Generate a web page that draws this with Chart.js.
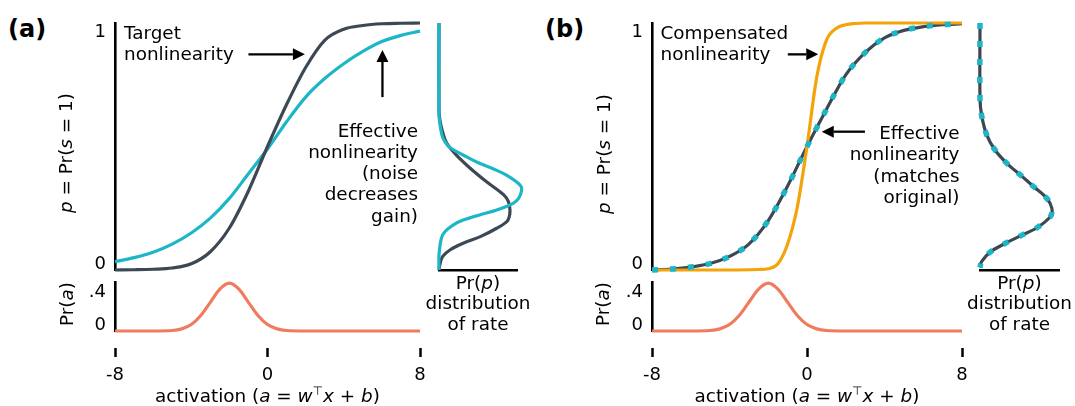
<!DOCTYPE html>
<html>
<head>
<meta charset="utf-8">
<script src="https://cdn.jsdelivr.net/npm/chart.js@4.4.1/dist/chart.umd.min.js"></script>
<style>
  body { margin: 0; background: #fff; }
  #fig { position: relative; width: 1075px; height: 406px; overflow: hidden;
         font-family: "DejaVu Sans", sans-serif; font-size: 18.4px; color: #000; }
  #fig canvas { position: absolute; }
  .t { position: absolute; white-space: nowrap; line-height: 21.3px; }
  .panel { font-weight: bold; font-size: 24px; line-height: 28px; }
  .rot { transform: translate(-50%, -50%) rotate(-90deg) !important; }
  sup { font-size: 12px; vertical-align: 7px; line-height: 0; }
</style>
</head>
<body>
<div id="fig"></div>
<script>
// activation grid for the sigmoid readings
const activation = [-8, -7, -6, -5, -4, -3, -2, -1, 0, 1, 2, 3, 4, 5, 6, 7, 8];

// panel (a): target vs effective nonlinearity, p = Pr(s = 1)
const targetA = [0.000, 0.001, 0.003, 0.008, 0.025, 0.074, 0.17, 0.32, 0.50, 0.67, 0.82, 0.93, 0.975, 0.99, 0.997, 0.999, 1.0];
const effectiveA = [0.034, 0.05, 0.072, 0.105, 0.15, 0.21, 0.29, 0.39, 0.49, 0.60, 0.70, 0.775, 0.835, 0.885, 0.925, 0.95, 0.967];

// panel (b): compensated nonlinearity, effective one matches the original
const targetB = [0.000, 0.004, 0.012, 0.026, 0.055, 0.105, 0.20, 0.34, 0.50, 0.65, 0.79, 0.88, 0.94, 0.97, 0.985, 0.993, 0.997];
const effectiveB = [0.000, 0.004, 0.012, 0.026, 0.055, 0.105, 0.20, 0.34, 0.50, 0.65, 0.79, 0.88, 0.94, 0.97, 0.985, 0.993, 0.997];
const compActivation = [-8, -4, -3, -2.5, -2, -1.5, -1, -0.5, 0, 0.5, 1, 1.5, 2, 2.5, 3, 4, 8];
const compensatedB = [0, 0, 0.001, 0.002, 0.005, 0.025, 0.105, 0.255, 0.50, 0.78, 0.93, 0.978, 0.993, 0.998, 1, 1, 1];

// Pr(a), same in both panels
const priorActivation = [-8, -6, -5, -4.5, -4, -3.5, -3, -2.5, -2, -1.5, -1, -0.5, 0, 0.5, 1, 2, 4, 8];
const prior = [0, 0, 0.004, 0.018, 0.054, 0.13, 0.24, 0.35, 0.40, 0.35, 0.24, 0.13, 0.054, 0.018, 0.004, 0, 0, 0];

// Pr(p), distribution of rate (rate p, density)
const rateEffA = [1.0, 0.63, 0.574, 0.535, 0.503, 0.48, 0.459, 0.432, 0.409, 0.385, 0.344, 0.324, 0.29, 0.27, 0.243, 0.223, 0.202, 0.182, 0.155, 0.128, 0.06, 0];
const densEffA = [0, 0, 0.02, 0.05, 0.115, 0.22, 0.35, 0.52, 0.70, 0.86, 1.04, 1.06, 1.02, 0.95, 0.74, 0.52, 0.31, 0.18, 0.075, 0.03, 0, 0];
const rateTgtA = [1.0, 0.65, 0.61, 0.56, 0.513, 0.466, 0.412, 0.357, 0.304, 0.277, 0.243, 0.215, 0.196, 0.169, 0.135, 0.108, 0.081, 0.054, 0.02, 0];
const densTgtA = [0, 0, 0.01, 0.045, 0.10, 0.22, 0.40, 0.61, 0.83, 0.89, 0.91, 0.90, 0.87, 0.74, 0.53, 0.31, 0.14, 0.045, 0.01, 0];
const rateB = [1.0, 0.695, 0.627, 0.547, 0.486, 0.432, 0.385, 0.337, 0.29, 0.25, 0.216, 0.171, 0.138, 0.108, 0.072, 0.034, 0.01];
const densB = [0, 0, 0.02, 0.085, 0.19, 0.34, 0.51, 0.68, 0.846, 0.91, 0.89, 0.72, 0.51, 0.32, 0.127, 0.02, 0];

// tick values
const rateTicks = [0, 1];
const priorTicks = [0, 0.4];
const activationTicks = [-8, 0, 8];

const FONT = "DejaVu Sans";
const INK = "#000";
const C_TARGET = "#3c4955";
const C_EFF = "#1db6c6";
const C_COMP = "#f4a30b";
const C_PRIOR = "#ef7c5e";

Chart.defaults.font.family = FONT;

const fig = document.getElementById("fig");
const common = {
  responsive: false,
  animation: false,
  events: [],
  devicePixelRatio: 1,
  plugins: { legend: { display: false }, tooltip: { enabled: false } }
};

const pts = (xs, ys) => xs.map((x, i) => ({ x, y: ys[i] }));

function canvasFor(x0, y0, x1, y1, pad) {
  const c = document.createElement("canvas");
  c.width = x1 - x0 + pad.l + pad.r;
  c.height = y1 - y0 + pad.t + pad.b;
  c.style.left = x0 - pad.l + "px";
  c.style.top = y0 - pad.t + "px";
  fig.appendChild(c);
  return c;
}

function curve(xs, ys, color, extra) {
  return Object.assign({
    data: pts(xs, ys),
    borderColor: color,
    borderWidth: 3.2,
    pointRadius: 0,
    fill: false,
    clip: false,
    cubicInterpolationMode: "monotone"
  }, extra || {});
}

function densityCurve(rates, dens, color, extra) {
  return Object.assign({
    data: pts(dens, rates),
    borderColor: color,
    borderWidth: 3.2,
    pointRadius: 0,
    fill: false,
    clip: false,
    tension: 0.35,
    capBezierPoints: false
  }, extra || {});
}

// tick labels sit inside the axis range: lower one lifted, upper one dropped
const edgeLabel = (text, atMin) => (atMin ? [text, "", ""] : ["", "", "", text]);

function edgeAxis(min, max, ticks, fmt) {
  return {
    min,
    max,
    afterFit: (s) => { s.width = 40; },
    afterBuildTicks: (s) => { s.ticks = ticks.map((value) => ({ value })); },
    grid: { color: "rgba(0,0,0,0)", drawOnChartArea: false, drawTicks: false },
    border: { display: true, color: INK, width: 2.6 },
    ticks: {
      padding: 9,
      color: INK,
      font: { family: FONT, size: 18, lineHeight: "6px" },
      callback: (v) => edgeLabel(fmt(v), v === min)
    }
  };
}

const arrowPlugin = {
  id: "arrows",
  afterDatasetsDraw(chart, args, opts) {
    const { ctx } = chart;
    const sx = chart.scales.x;
    const sy = chart.scales.y;
    (opts.list || []).forEach(([a0, p0, a1, p1]) => {
      const x0 = sx.getPixelForValue(a0);
      const y0 = sy.getPixelForValue(p0);
      const x1 = sx.getPixelForValue(a1);
      const y1 = sy.getPixelForValue(p1);
      const ang = Math.atan2(y1 - y0, x1 - x0);
      const cos = Math.cos(ang);
      const sin = Math.sin(ang);
      const head = 12;
      const half = 6;
      ctx.save();
      ctx.strokeStyle = INK;
      ctx.fillStyle = INK;
      ctx.lineWidth = 2.3;
      ctx.beginPath();
      ctx.moveTo(x0, y0);
      ctx.lineTo(x1 - head * cos, y1 - head * sin);
      ctx.stroke();
      ctx.beginPath();
      ctx.moveTo(x1, y1);
      ctx.lineTo(x1 - head * cos + half * sin, y1 - head * sin - half * cos);
      ctx.lineTo(x1 - head * cos - half * sin, y1 - head * sin + half * cos);
      ctx.closePath();
      ctx.fill();
      ctx.restore();
    });
  }
};

function rateChart(x0, x1, datasets, arrows) {
  const pad = { l: 40, r: 12, t: 24, b: 24 };
  const c = canvasFor(x0, 23, x1, 270, pad);
  new Chart(c, {
    type: "line",
    data: { datasets },
    options: {
      ...common,
      layout: { padding: { left: 0, right: pad.r, top: pad.t, bottom: pad.b } },
      scales: {
        x: { type: "linear", display: false, min: -8, max: 8 },
        y: edgeAxis(0, 1, rateTicks, (v) => String(v))
      },
      plugins: { ...common.plugins, arrows: { list: arrows } }
    },
    plugins: [arrowPlugin]
  });
}

function priorChart(x0, x1) {
  const pad = { l: 40, r: 12, t: 24, b: 24 };
  const c = canvasFor(x0, 282, x1, 331, pad);
  new Chart(c, {
    type: "line",
    data: { datasets: [curve(priorActivation, prior, C_PRIOR)] },
    options: {
      ...common,
      layout: { padding: { left: 0, right: pad.r, top: pad.t, bottom: pad.b } },
      scales: {
        x: { type: "linear", display: false, min: -8, max: 8 },
        y: edgeAxis(0, 0.41, priorTicks, (v) => (v === 0 ? "0" : String(v).replace("0.", ".")))
      }
    }
  });
}

function activationAxis(x0, x1) {
  const pad = { l: 20, r: 20, t: 0, b: 50 };
  const c = canvasFor(x0, 340, x1, 348, pad);
  new Chart(c, {
    type: "line",
    data: { datasets: [] },
    options: {
      ...common,
      layout: { padding: { left: pad.l, right: pad.r, top: 0, bottom: 0 } },
      scales: {
        x: {
          type: "linear",
          position: "bottom",
          min: -8,
          max: 8,
          afterFit: (s) => { s.height = 50; },
          afterBuildTicks: (s) => { s.ticks = activationTicks.map((value) => ({ value })); },
          border: { display: false },
          grid: { color: INK, drawOnChartArea: false, drawTicks: true, tickLength: 9, tickWidth: 2.5, tickColor: INK },
          ticks: { padding: 8, color: INK, maxRotation: 0, font: { family: FONT, size: 18 }, callback: (v) => String(v) }
        },
        y: { display: false, min: 0, max: 1 }
      }
    }
  });
}

function densityChart(x0, x1, datasets) {
  const pad = { l: 10, r: 14, t: 14, b: 10 };
  const c = canvasFor(x0, 23, x1, 270, pad);
  new Chart(c, {
    type: "line",
    data: { datasets },
    options: {
      ...common,
      layout: { padding: { left: pad.l, right: pad.r, top: pad.t, bottom: pad.b } },
      scales: {
        x: {
          type: "linear",
          position: "bottom",
          min: 0,
          max: 1,
          afterFit: (s) => { s.height = 0; },
          ticks: { display: false },
          grid: { color: "rgba(0,0,0,0)", drawOnChartArea: false, drawTicks: false },
          border: { display: true, color: INK, width: 2.6 }
        },
        y: { display: false, min: 0, max: 1 }
      }
    }
  });
}

const dotted = { borderColor: C_EFF, borderWidth: 5.5, borderDash: [6, 12], borderCapStyle: "butt" };

// panel (a)
rateChart(115, 420, [
  curve(activation, targetA, C_TARGET),
  curve(activation, effectiveA, C_EFF)
], [[-1.0, 0.873, 1.96, 0.873], [6.03, 0.70, 6.03, 0.891]]);
densityChart(439, 517, [
  densityCurve(rateEffA, densEffA, C_EFF),
  densityCurve(rateTgtA, densTgtA, C_TARGET)
]);
priorChart(115, 420);
activationAxis(115, 420);

// panel (b)
rateChart(652, 962, [
  curve(activation, effectiveB, C_EFF, dotted),
  curve(compActivation, compensatedB, C_COMP),
  curve(activation, targetB, C_TARGET)
], [[-0.99, 0.873, 0.58, 0.873], [2.99, 0.56, 0.76, 0.56]]);
densityChart(980, 1059, [
  densityCurve(rateB, densB, C_EFF, dotted),
  densityCurve(rateB, densB, C_TARGET)
]);
priorChart(652, 962);
activationAxis(652, 962);

// text
function addText(html, x, y, align, cls) {
  const d = document.createElement("div");
  d.className = "t" + (cls ? " " + cls : "");
  d.innerHTML = html;
  d.style.left = x + "px";
  d.style.top = y + "px";
  d.style.textAlign = align;
  const tx = align === "right" ? "-100%" : align === "center" ? "-50%" : "0";
  d.style.transform = "translate(" + tx + ", -50%)";
  fig.appendChild(d);
  return d;
}

addText("(a)", 8, 29, "left", "panel");
addText("(b)", 545, 29, "left", "panel");

const rateLabel = "<i>p</i> = Pr(<i>s</i> = 1)";
const priorLabel = "Pr(<i>a</i>)";
const actLabel = "activation (<i>a</i> = <i>w</i><sup>⊤</sup><i>x</i> + <i>b</i>)";
const distLabel = "Pr(<i>p</i>)<br>distribution<br>of rate";

addText(rateLabel, 65.5, 152.5, "center", "rot");
addText(rateLabel, 603.5, 153.5, "center", "rot");
addText(priorLabel, 66.5, 303.5, "center", "rot");
addText(priorLabel, 603, 304, "center", "rot");

addText(actLabel, 267.5, 395.5, "center");
addText(actLabel, 807, 395.5, "center");

const dl1 = addText(distLabel, 478, 303.5, "center");
const dl2 = addText(distLabel, 1019.5, 303.5, "center");
dl1.style.lineHeight = dl2.style.lineHeight = "20.6px";

addText("Target<br>nonlinearity", 124, 43, "left");
addText("Effective<br>nonlinearity<br>(noise<br>decreases<br>gain)", 418, 172.6, "right");
addText("Compensated<br>nonlinearity", 660.5, 43, "left");
addText("Effective<br>nonlinearity<br>(matches<br>original)", 959.5, 165, "right");
</script>
</body>
</html>
